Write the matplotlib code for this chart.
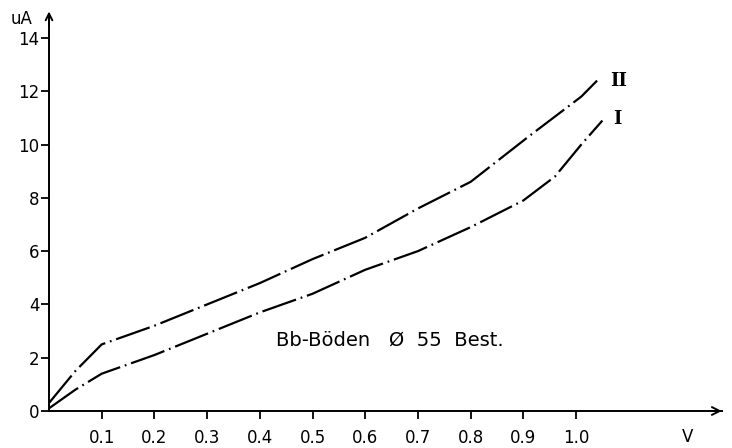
import matplotlib
matplotlib.use("Agg")
import matplotlib.pyplot as plt

# Data
x_II = [0.0, 0.05, 0.1, 0.2, 0.3, 0.4, 0.5, 0.6, 0.7, 0.8, 0.91, 1.01, 1.04]
y_II = [0.3, 1.5, 2.5, 3.2, 4.0, 4.8, 5.7, 6.5, 7.6, 8.6, 10.3, 11.8, 12.4]
x_I = [0.0, 0.05, 0.1, 0.2, 0.3, 0.4, 0.5, 0.6, 0.7, 0.8, 0.9, 0.96, 1.01, 1.05]
y_I = [0.1, 0.8, 1.4, 2.1, 2.9, 3.7, 4.4, 5.3, 6.0, 6.9, 7.9, 8.8, 10.0, 10.9]
xticks = [0.1, 0.2, 0.3, 0.4, 0.5, 0.6, 0.7, 0.8, 0.9, 1.0]
xticklabels = ["0.1", "0.2", "0.3", "0.4", "0.5", "0.6", "0.7", "0.8", "0.9", "1.0"]
yticks = [0, 2, 4, 6, 8, 10, 12, 14]
yticklabels = ["0", "2", "4", "6", "8", "10", "12", "14"]

plt.rcParams['font.family'] = ['DejaVu Sans']
fig = plt.figure(figsize=(7.32, 4.48), dpi=100)
ax = fig.add_axes([49/732, 37/448, (722-49)/732, (411-14)/448])
xmax, ymax = 1.277, 14.9
ax.set_xlim(0, xmax)
ax.set_ylim(0, ymax)

ls = (0, (16, 2.2, 0.8, 2.2))
ax.plot(x_II, y_II, color="black", lw=1.6, linestyle=ls)
ax.plot(x_I, y_I, color="black", lw=1.6, linestyle=ls)

for s in ["top", "right"]:
    ax.spines[s].set_visible(False)
for s in ["left", "bottom"]:
    ax.spines[s].set_linewidth(1.4)

ax.set_xticks(xticks)
ax.set_xticklabels(xticklabels)
ax.set_yticks(yticks)
ax.set_yticklabels(yticklabels)
ax.tick_params(axis="both", direction="out", length=6, width=1.3, labelsize=12)
ax.tick_params(axis="x", pad=7)
ax.tick_params(axis="y", pad=1)

# axis arrows
ax.annotate("", xy=(xmax + 0.005, 0), xytext=(xmax - 0.03, 0),
            arrowprops=dict(arrowstyle="->", lw=1.4, color="black",
                            mutation_scale=14),
            annotation_clip=False)
ax.annotate("", xy=(0, ymax + 0.2), xytext=(0, ymax - 0.5),
            arrowprops=dict(arrowstyle="->", lw=1.4, color="black",
                            mutation_scale=12),
            annotation_clip=False)

fig.text(22/732, 1 - 19/448, "uA", ha="center", va="center", fontsize=12)
fig.text(688/732, 1 - 437/448, "V", ha="center", va="center", fontsize=12)

ax.text(1.065, 12.4, "II", fontsize=13, family="DejaVu Serif",
        fontweight="bold", ha="left", va="center")
ax.text(1.07, 10.95, "I", fontsize=13, family="DejaVu Serif",
        fontweight="bold", ha="left", va="center")

ax.text(0.647, 2.67, "Bb-Böden   Ø  55  Best.", fontsize=14,
        ha="center", va="center")

fig.savefig("out.png", dpi=100)
